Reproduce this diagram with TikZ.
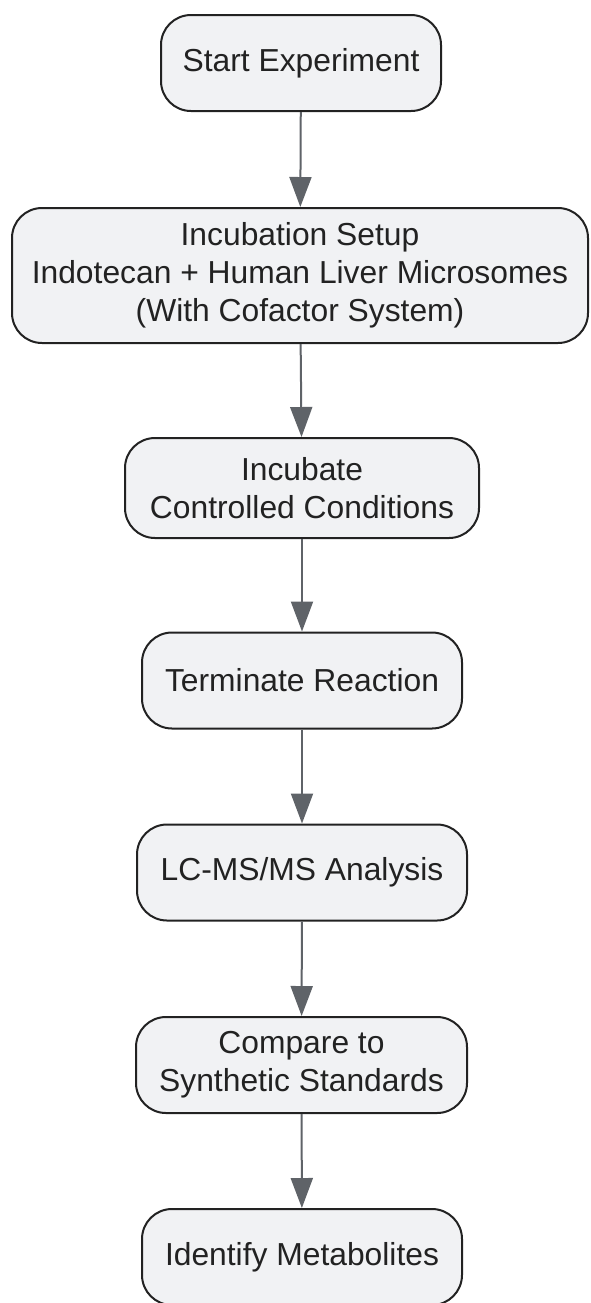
\documentclass[tikz,border=0pt]{standalone}
\usepackage{fontspec}
\setmainfont{Liberation Sans}
\usepackage{tikz}
\usetikzlibrary{arrows.meta,positioning}
\definecolor{boxfill}{HTML}{F1F2F4}
\definecolor{boxline}{HTML}{222222}
\definecolor{arrowgray}{HTML}{5F6368}

\begin{document}
\begin{tikzpicture}[x=0.5pt,y=-0.5pt,
    stepbox/.style={draw=boxline,fill=boxfill,line width=1pt,rounded corners=15pt,
        align=center,inner sep=0pt,font=\fontsize{15.9}{19}\selectfont,text=boxline},
    flow/.style={draw=arrowgray,line width=1pt,-{Triangle[length=15pt,width=11pt]}}]
    \useasboundingbox (0,0) rectangle (590,1303);
    \node[stepbox,minimum width=140pt,minimum height=48pt] (start) at (301,63) {Start Experiment};
    \node[stepbox,minimum width=288pt,minimum height=67.5pt] (setup) at (300,275.5) {Incubation Setup\\Indotecan + Human Liver Microsomes\\(With Cofactor System)};
    \node[stepbox,minimum width=177pt,minimum height=50pt] (incubate) at (302,488) {Incubate\\Controlled Conditions};
    \node[stepbox,minimum width=160pt,minimum height=48pt] (terminate) at (302,680.5) {Terminate Reaction};
    \node[stepbox,minimum width=165pt,minimum height=48pt] (analysis) at (302,872.5) {LC-MS/MS Analysis};
    \node[stepbox,minimum width=165.5pt,minimum height=48pt] (compare) at (301.5,1065) {Compare to\\Synthetic Standards};
    \node[stepbox,minimum width=160pt,minimum height=48pt] (identify) at (302,1257) {Identify Metabolites};
    \draw[flow] (start) -- (setup);
    \draw[flow] (setup) -- (incubate);
    \draw[flow] (incubate) -- (terminate);
    \draw[flow] (terminate) -- (analysis);
    \draw[flow] (analysis) -- (compare);
    \draw[flow] (compare) -- (identify);
\end{tikzpicture}
\end{document}
